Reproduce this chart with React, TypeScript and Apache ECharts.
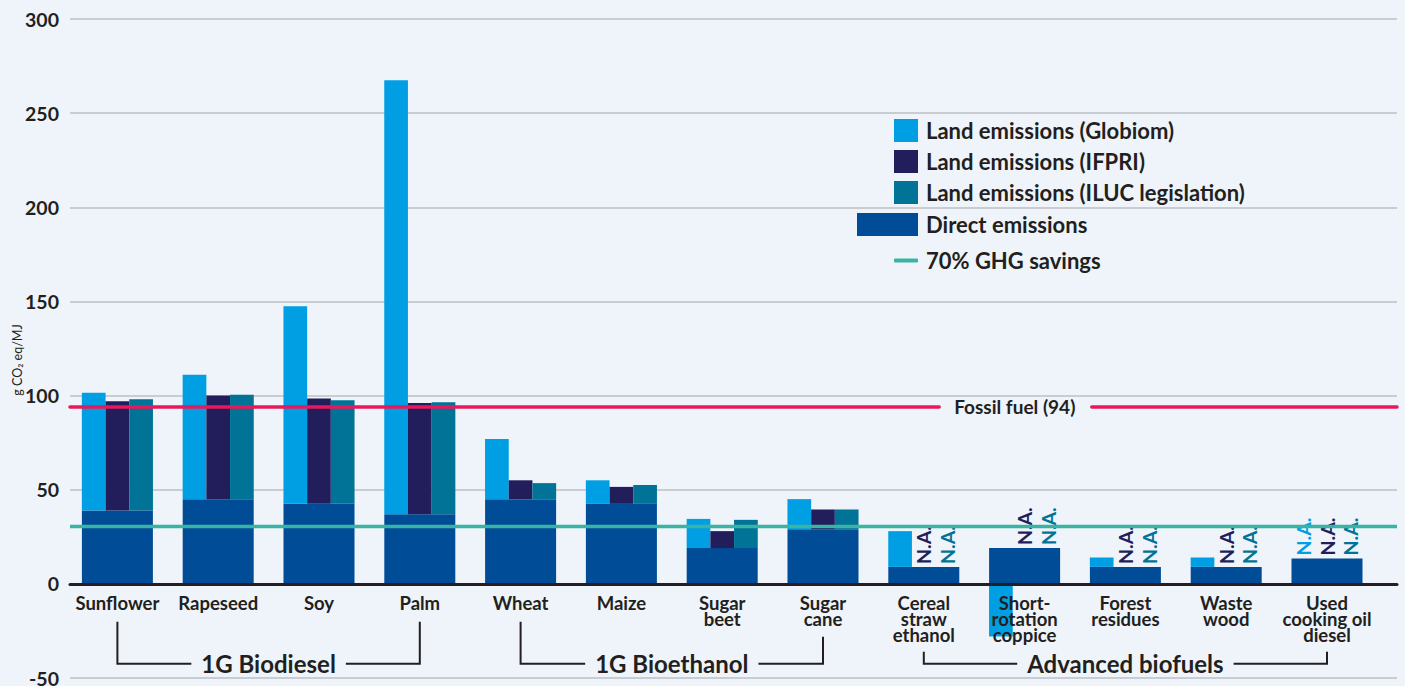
import React, { useEffect, useRef } from 'react';
import * as echarts from 'echarts';

// ---- Data (g CO2 eq/MJ) ----
const categories = [
  'Sunflower',
  'Rapeseed',
  'Soy',
  'Palm',
  'Wheat',
  'Maize',
  'Sugar\nbeet',
  'Sugar\ncane',
  'Cereal\nstraw\nethanol',
  'Short-\nrotation\ncoppice',
  'Forest\nresidues',
  'Waste\nwood',
  'Used\ncooking oil\ndiesel',
];
const directEmissions = [39, 45, 42.5, 37, 45, 42.5, 19, 29, 9, 19, 9, 9, 13.5];
// land-use emissions added on top of direct emissions (null = N.A.)
const landGlobiom = [62.5, 66, 105, 230.5, 32, 12.5, 15.5, 16, 19, -28, 5, 5, null];
const landIfpri = [58, 55, 56, 59, 10, 9, 9, 10.5, null, null, null, null, null];
const landIluc = [59, 55.5, 55, 59.5, 8.5, 10, 15, 10.5, null, null, null, null, null];
const yMin = -50;
const yMax = 300;
const yInterval = 50;
const fossilFuel = 94;
const ghgSavings70 = 30.5;
const groups = [
  { label: '1G Biodiesel', from: 0, to: 3 },
  { label: '1G Bioethanol', from: 4, to: 7 },
  { label: 'Advanced biofuels', from: 8, to: 12 },
];

const FONT = 'Lato, "Noto Sans", sans-serif';
const INK = '#231F20';
const BG = '#EEF4FA';
const C_GLOBIOM = '#009FE3';
const C_IFPRI = '#221E5B';
const C_ILUC = '#007396';
const C_DIRECT = '#004C97';
const C_FOSSIL = '#E8185B';
const C_GHG = '#38B3A4';

const SUB_W = 23.7;

function landSeries(name: string, data: (number | null)[], color: string, stack: string) {
  const base = {
    name: name + ' base',
    type: 'bar',
    xAxisIndex: 2,
    yAxisIndex: 1,
    stack,
    barWidth: SUB_W,
    barGap: '0%',
    silent: true,
    itemStyle: { color: 'rgba(0,0,0,0)' },
    data: directEmissions,
  };
  const top = {
    name,
    type: 'bar',
    xAxisIndex: 2,
    yAxisIndex: 1,
    stack,
    barWidth: SUB_W,
    barGap: '0%',
    itemStyle: { color },
    data: data.map((v) =>
      v === null
        ? {
            value: 0,
            label: {
              show: true,
              formatter: 'N.A.',
              position: 'top',
              rotate: 90,
              align: 'left',
              verticalAlign: 'middle',
              distance: 3,
              color,
              fontSize: 19.5,
              fontWeight: 'bold',
              fontFamily: FONT,
            },
          }
        : v
    ),
  };
  return [base, top];
}

export default function App() {
  const ref = useRef<HTMLDivElement>(null);

  useEffect(() => {
    if (!ref.current) return;
    const chart = echarts.init(ref.current, null, { renderer: 'svg' });

    const legendText = {
      fontSize: 22,
      fontWeight: 'bold',
      color: INK,
      fontFamily: FONT,
      lineHeight: 23,
      padding: [0, 0, 0, 3],
    };

    const option: any = {
      animation: false,
      backgroundColor: BG,
      textStyle: { fontFamily: FONT },
      grid: [
        { left: 70, right: 8, top: 19, bottom: 8, outerBoundsMode: 'none', containLabel: false },
        { left: 67, width: 1310.4, top: 19, bottom: 8, outerBoundsMode: 'none', containLabel: false },
      ],
      legend: [
        {
          data: ['Land emissions (Globiom)', 'Land emissions (IFPRI)', 'Land emissions (ILUC legislation)'],
          orient: 'vertical',
          left: 894,
          top: 119,
          padding: 0,
          itemWidth: 24,
          itemHeight: 23,
          itemGap: 8,
          icon: 'rect',
          selectedMode: false,
          textStyle: legendText,
        },
        {
          data: ['Direct emissions'],
          orient: 'vertical',
          left: 857,
          top: 213,
          padding: 0,
          itemWidth: 61,
          itemHeight: 23,
          icon: 'rect',
          selectedMode: false,
          textStyle: legendText,
        },
        {
          data: ['70% GHG savings'],
          orient: 'vertical',
          left: 894,
          top: 249,
          padding: 0,
          itemWidth: 24,
          itemHeight: 4,
          icon: 'roundRect',
          selectedMode: false,
          textStyle: legendText,
        },
      ],
      xAxis: [
        {
          gridIndex: 0,
          type: 'value',
          min: 0,
          max: 1,
          axisLine: { show: true, onZero: true, lineStyle: { color: INK, width: 3 } },
          axisTick: { show: false },
          axisLabel: { show: false },
          splitLine: { show: false },
          z: 10,
        },
        {
          gridIndex: 1,
          type: 'category',
          position: 'bottom',
          data: categories,
          z: 10,
          axisLine: { show: false, onZero: false },
          axisTick: { show: false },
          axisLabel: {
            interval: 0,
            fontSize: 18.5,
            fontWeight: 'bold',
            color: INK,
            lineHeight: 16,
            margin: 11,
            fontFamily: FONT,
          },
        },
        {
          gridIndex: 1,
          type: 'category',
          data: categories,
          show: false,
          axisLine: { onZero: false },
        },
      ],
      yAxis: [
        {
          gridIndex: 0,
          type: 'value',
          min: yMin,
          max: yMax,
          interval: yInterval,
          axisLine: { show: false },
          axisTick: { show: false },
          axisLabel: {
            fontSize: 19.5,
            fontWeight: 'bold',
            color: INK,
            margin: 11,
            fontFamily: FONT,
          },
          splitLine: { lineStyle: { color: '#BCC0C4', width: 1.5 } },
        },
        {
          gridIndex: 1,
          type: 'value',
          min: yMin,
          max: yMax,
          interval: yInterval,
          show: false,
        },
      ],
      series: [
        {
          name: 'Direct emissions',
          type: 'bar',
          xAxisIndex: 1,
          yAxisIndex: 1,
          barWidth: 71,
          itemStyle: { color: C_DIRECT },
          data: directEmissions,
        },
        ...landSeries('Land emissions (Globiom)', landGlobiom, C_GLOBIOM, 'globiom'),
        ...landSeries('Land emissions (IFPRI)', landIfpri, C_IFPRI, 'ifpri'),
        ...landSeries('Land emissions (ILUC legislation)', landIluc, C_ILUC, 'iluc'),
        {
          name: '70% GHG savings',
          type: 'line',
          xAxisIndex: 0,
          yAxisIndex: 0,
          symbol: 'none',
          silent: true,
          z: 5,
          lineStyle: { color: C_GHG, width: 3.5 },
          itemStyle: { color: C_GHG },
          data: [
            [0, ghgSavings70],
            [1, ghgSavings70],
          ],
        },
        {
          name: 'Fossil fuel',
          type: 'line',
          xAxisIndex: 0,
          yAxisIndex: 0,
          data: [],
          z: 5,
          markLine: {
            silent: true,
            symbol: ['none', 'none'],
            lineStyle: { color: C_FOSSIL, width: 3.5, type: 'solid', cap: 'round' },
            data: [
              [
                {
                  coord: [0, fossilFuel],
                  label: {
                    show: true,
                    position: 'end',
                    distance: 15,
                    formatter: 'Fossil fuel (' + fossilFuel + ')',
                    color: INK,
                    fontSize: 19,
                    fontWeight: 'bold',
                    fontFamily: FONT,
                  },
                },
                { coord: [0.655, fossilFuel] },
              ],
              [
                { coord: [0.77, fossilFuel], label: { show: false } },
                { coord: [1, fossilFuel] },
              ],
            ],
          },
        },
      ],
    };

    chart.setOption(option);

    // category labels sit on the zero line; brackets for category groups
    const zeroY = chart.convertToPixel({ yAxisIndex: 1 }, 0) as number;
    const minY = chart.convertToPixel({ yAxisIndex: 1 }, yMin) as number;
    const bottomY = zeroY + 80;
    const topY = (i: number) => zeroY + 38 + 15 * (categories[i].split('\n').length - 1);
    const elements: any[] = [];
    groups.forEach((g) => {
      const x1 = chart.convertToPixel({ xAxisIndex: 1 }, categories[g.from]) as number;
      const x2 = chart.convertToPixel({ xAxisIndex: 1 }, categories[g.to]) as number;
      elements.push({
        type: 'polyline',
        silent: true,
        shape: {
          points: [
            [x1, topY(g.from)],
            [x1, bottomY],
            [x2, bottomY],
            [x2, topY(g.to)],
          ],
        },
        style: { stroke: INK, lineWidth: 2, fill: 'none' },
      });
      elements.push({
        type: 'text',
        silent: true,
        x: (x1 + x2) / 2,
        y: bottomY,
        z: 10,
        style: {
          text: g.label,
          fontSize: 24,
          fontWeight: 'bold',
          fontFamily: FONT,
          fill: INK,
          align: 'center',
          verticalAlign: 'middle',
          backgroundColor: BG,
          padding: [0, 10],
        },
      });
    });
    elements.push({
      type: 'text',
      silent: true,
      x: 17,
      y: 360,
      rotation: Math.PI / 2,
      style: {
        text: 'g CO₂ eq/MJ',
        fontSize: 12.5,
        fontFamily: FONT,
        fill: INK,
        align: 'center',
        verticalAlign: 'middle',
      },
    });
    chart.setOption({
      xAxis: [{}, { offset: zeroY - minY }, {}],
      graphic: elements,
    });

    return () => {
      chart.dispose();
    };
  }, []);

  return (
    <div
      ref={ref}
      style={{ position: 'fixed', left: 0, top: 0, width: 1405, height: 686, background: BG }}
    />
  );
}
